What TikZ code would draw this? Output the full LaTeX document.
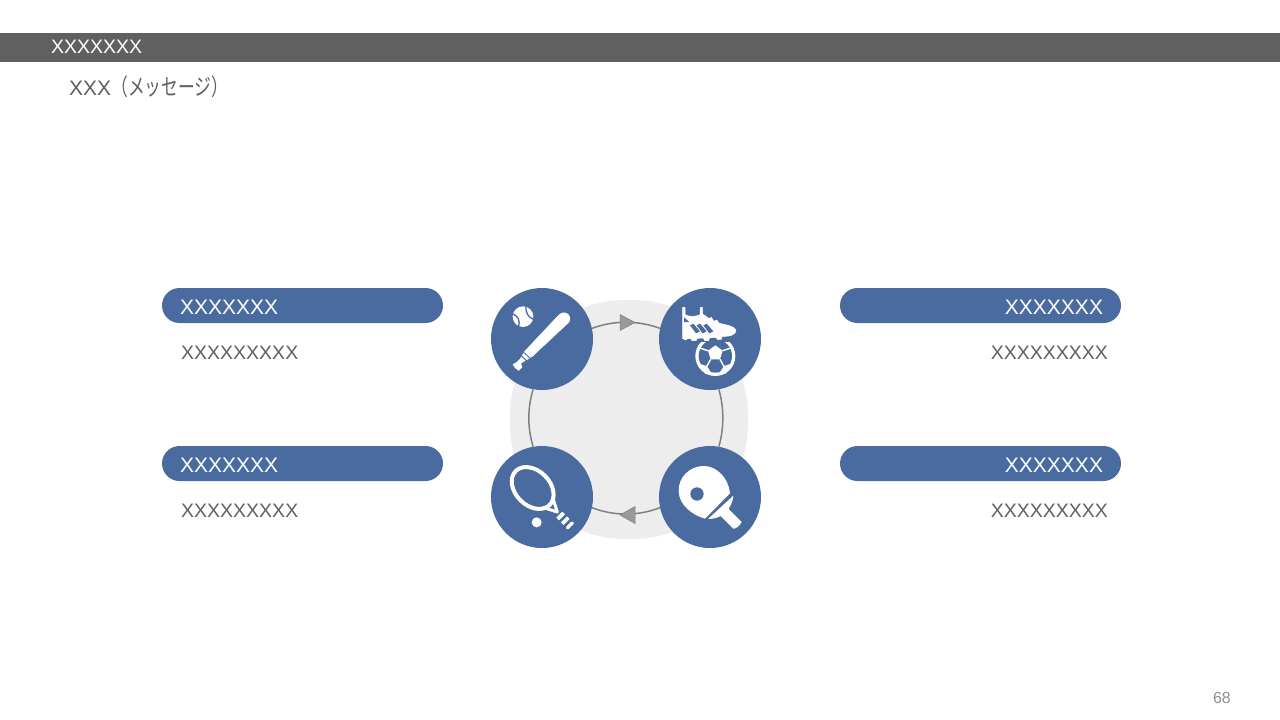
\documentclass[tikz,border=0pt]{standalone}
\usepackage{fontspec}
\usepackage{graphicx}
\setmainfont{Liberation Sans}
\newfontfamily\cjkfont{Noto Sans CJK JP}
\definecolor{barblue}{HTML}{4A6B9F}
\definecolor{bodygray}{HTML}{606060}
\definecolor{blobgray}{HTML}{EDEDED}
\definecolor{ringgray}{HTML}{808080}
\definecolor{headgray}{HTML}{999999}
\definecolor{numgray}{HTML}{8F8F8F}
\newcommand{\fs}[1]{\fontsize{#1}{#1}\selectfont}
\tikzset{
  pill/.style={fill=barblue,rounded corners=17.5pt,minimum width=281pt,minimum height=35pt,inner sep=0pt,text=white,font=\fs{21},text height=17pt,text depth=0pt},
  pillleft/.style={pill,align=left,text width=245pt},
  pillright/.style={pill,align=right,text width=245pt},
  sublabel/.style={text=bodygray,font=\fs{19.5},inner sep=0pt},
  disc/.style={circle,fill=barblue,minimum size=102pt,inner sep=0pt},
  ringline/.style={draw=ringgray,line width=1.5pt},
  headtri/.style={fill=headgray,draw=ringgray,line width=.5pt},
  iconw/.style={fill=white},
  iconb/.style={fill=barblue},
}
\begin{document}
\begin{tikzpicture}[x=1pt,y=-1pt]
\useasboundingbox (0,0) rectangle (1280,720);
% header
\node[fill=bodygray,minimum width=1280pt,minimum height=29pt,inner sep=0pt] (bar) at (640,47.5) {};
\node[text=white,font=\fs{19.5},inner sep=0pt,anchor=west] (title) at (51,46.5) {XXXXXXX};
\node[text=bodygray,font=\fs{21},inner sep=0pt,anchor=west] (msg) at (69,87) {XXX\fs{23}\cjkfont\scalebox{.73}[1]{（メッセージ）}};
\node[text=numgray,font=\fs{16},inner sep=0pt,anchor=east] (pnum) at (1231,698) {68};
% pills and labels
\node[pillleft] (pa) at (302.5,305.5) {XXXXXXX};
\node[pillleft] (pb) at (302.5,463.5) {XXXXXXX};
\node[pillright] (pc) at (980.5,305.5) {XXXXXXX};
\node[pillright] (pd) at (980.5,463.5) {XXXXXXX};
\node[sublabel,anchor=west] (sa) at (181,352.5) {XXXXXXXXX};
\node[sublabel,anchor=west] (sb) at (181,510.5) {XXXXXXXXX};
\node[sublabel,anchor=east] (sc) at (1108,352.5) {XXXXXXXXX};
\node[sublabel,anchor=east] (sd) at (1108,510.5) {XXXXXXXXX};
% centre blob
\node[fill=blobgray,rounded corners=115pt,minimum width=238pt,minimum height=239pt,inner sep=0pt] (blob) at (629,419.5) {};
% discs
\node[disc] (bat) at (542,339) {};
\node[disc] (shoe) at (710,339) {};
\node[disc] (racket) at (542,497) {};
\node[disc] (paddle) at (710,497) {};
% ring arcs
\draw[ringline] (bat.12) to[bend left=20.5,looseness=.88] (shoe.168);
\draw[ringline] (shoe.280) to[bend left=15.5,looseness=.88] (paddle.80);
\draw[ringline] (paddle.192) to[bend left=21.5,looseness=.88] (racket.-12);
\draw[ringline] (racket.100) to[bend left=17,looseness=.88] (bat.260);
\draw[headtri] (620,314.5) -- (620,330.5) -- (635,322.5) -- cycle;
\draw[headtri] (635,506.5) -- (635,523.5) -- (620,515) -- cycle;
% bat icon
\begin{scope}[shift={(504,300)},x=.3333pt,y=-.3333pt]
\fill[iconw] (57,50) circle (31);
\draw[barblue,line width=1.3pt] (27,42) .. controls (42,48) and (49,62) .. (44,80);
\draw[barblue,line width=1.3pt] (66,19) .. controls (64,36) and (72,52) .. (88,58);
\filldraw[iconw,draw=white,line width=.5pt,line join=round] (164,46) .. controls (172,36) and (186,36) .. (193,44) .. controls (200,52) and (199,62) .. (192,69)
  -- (86,168) -- (62,183) -- (50,190) -- (54,202) -- (44,211) .. controls (36,208) and (30,200) .. (27,193)
  -- (39,187) -- (48,178) -- (64,152) -- cycle;
\draw[barblue,line width=.9pt] (52,168) -- (70,184);
\draw[barblue,line width=.9pt] (60,158) -- (80,176);
\end{scope}
% shoe and ball icon
\begin{scope}[shift={(672,300)},x=.3333pt,y=-.3333pt]
\fill[iconw] (130,168) circle (60);
\fill[iconb] (130,168) circle (50);
\fill[iconw] (130,136) -- (152,152) -- (144,178) -- (116,178) -- (108,152) -- cycle;
\draw[white,line width=1.4pt] (152,152) -- (180,143) (108,152) -- (80,143)
  (144,178) -- (156,200) (116,178) -- (104,200);
\fill[iconw] (104,198) -- (84,192) -- (100,222) -- (116,216) -- cycle;
\fill[iconw] (156,198) -- (176,192) -- (160,222) -- (144,216) -- cycle;
\fill[iconb] (60,100) rectangle (200,127);
\filldraw[iconw,draw=white,line width=.5pt,line join=round]
  (32,22) -- (39,22) -- (39,44) .. controls (55,52) and (72,50) .. (84,44) -- (85,22) -- (91,22) -- (92,42)
  -- (112,56) -- (118,52) -- (126,64) -- (134,60) -- (142,70)
  .. controls (160,74) and (186,78) .. (192,90) .. controls (192,100) and (182,106) .. (170,108)
  -- (150,110) -- (148,118) -- (136,118) -- (132,112) -- (112,114) -- (110,122) -- (98,122) -- (94,114)
  -- (76,115) -- (72,122) -- (60,122) -- (56,115) -- (46,116) -- (42,120) -- (32,116) -- cycle;
\fill[iconb] (36,52) -- (36,66) -- (52,66) -- cycle;
\foreach \d in {0,20,40}{
  \fill[iconb] (54+\d,76) -- (64+\d,71) -- (84+\d,94) -- (72+\d,100) -- cycle;
}
\end{scope}
% racket icon
\begin{scope}[shift={(504,460)},x=.3333pt,y=-.3333pt]
\draw[white,line width=4pt,rotate around={-45:(86,84)}] (86,84) ellipse[x radius=72,y radius=52];
\draw[white,line width=3pt,line join=round] (116,142) -- (160,156) -- (146,112);
\fill[iconw] (98,187) circle (15);
\draw[white,line width=3.8pt] (161,177) -- (179,159);
\draw[white,line width=3.8pt] (175,191) -- (193,173);
\draw[white,line width=3.4pt,line cap=round] (191,203) -- (205,189);
\end{scope}
% paddle icon
\begin{scope}[shift={(672,460)},x=.3333pt,y=-.3333pt]
\fill[iconw] (99,176) .. controls (60,165) and (22,135) .. (20,95) .. controls (18,50) and (55,18) .. (95,18)
  .. controls (135,18) and (170,55) .. (174,100) -- cycle;
\fill[iconb] (75,102) circle (20);
\fill[iconw] (184,107) -- (108,177) .. controls (122,177) and (135,174) .. (146,168) -- (184,206)
  .. controls (190,209) and (206,194) .. (209,186) -- (170,147) .. controls (176,135) and (184,122) .. (184,107) -- cycle;
\end{scope}
\end{tikzpicture}
\end{document}
